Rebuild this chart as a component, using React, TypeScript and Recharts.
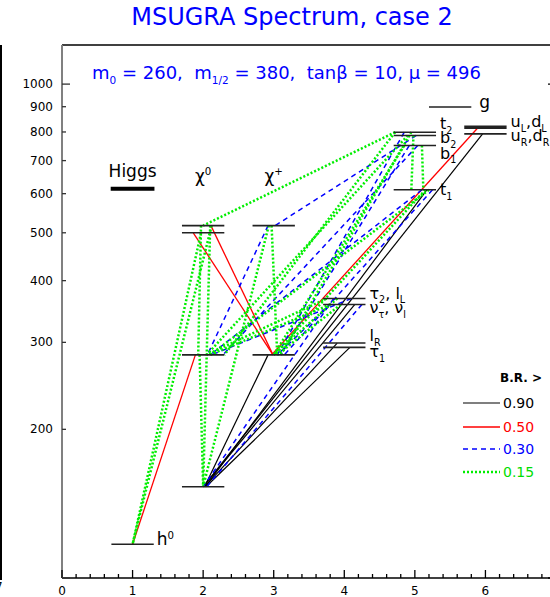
import React from 'react';
import { LineChart, Line, XAxis, YAxis, ReferenceLine } from 'recharts';

// sparticle levels: column on the x axis, mass in GeV
const particles = ['h0', 'H', 'N1', 'N2', 'N3', 'N4', 'C1', 'C2', 'tau1', 'lR', 'snu', 'tau2', 't1', 'b1', 'b2', 't2', 'qR', 'qL', 'gluino'];
const columnX = [1, 1, 2, 2, 2, 2, 3, 3, 4, 4, 4, 4, 5, 5, 5, 5, 6, 6, 5.5];
const massGeV = [117, 614, 153, 283, 500, 517, 283, 517, 293, 299, 358, 368, 611, 751, 787, 799, 793, 818, 899];

// decays: [from, x on from level, to, x on to level]
type Decay = [string, number, string, number];

const decays90: Decay[] = [
  ['C1', 2.92, 'N1', 2.02],
  ['lR', 3.9, 'N1', 2.02],
  ['tau1', 4.08, 'N1', 2.04],
  ['snu', 4.15, 'N1', 2.0],
  ['t1', 5.17, 'N1', 2.03],
  ['qR', 5.96, 'N1', 2.0],
];

const decays50: Decay[] = [
  ['N2', 1.89, 'h0', 1.0],
  ['N3', 1.86, 'C1', 2.99],
  ['N4', 2.11, 'C1', 2.99],
  ['qL', 5.9, 'C1', 2.97],
];

const decays30: Decay[] = [
  ['C2', 2.92, 'N2', 2.06],
  ['b2', 5.02, 'C2', 3.02],
  ['b1', 5.04, 'N2', 2.28],
  ['t2', 4.85, 'C1', 3.05],
  ['b1', 4.92, 'C1', 3.1],
  ['t1', 5.1, 'N2', 2.1],
  ['tau2', 3.85, 'N1', 2.0],
  ['snu', 4.25, 'N1', 2.05],
  ['snu', 3.8, 'C1', 3.05],
  ['tau2', 4.1, 'N2', 2.12],
  ['t1', 5.25, 'C1', 3.15],
];

const decays15: Decay[] = [
  ['N3', 1.97, 'h0', 1.0],
  ['N4', 2.12, 'h0', 1.0],
  ['N2', 1.95, 'N1', 2.0],
  ['N4', 1.97, 'N2', 1.93],
  ['N4', 2.1, 'N1', 2.0],
  ['C2', 2.97, 'C1', 3.05],
  ['C2', 2.93, 'N1', 2.0],
  ['t2', 4.72, 'N4', 2.0],
  ['t2', 4.72, 'N2', 2.3],
  ['b2', 4.9, 'N2', 2.05],
  ['b1', 4.85, 'C1', 3.0],
  ['t1', 5.2, 'N2', 2.1],
  ['b2', 4.98, 't1', 4.95],
  ['b1', 5.1, 't1', 5.12],
  ['tau2', 3.75, 'N2', 2.05],
  ['snu', 3.8, 'N2', 2.1],
  ['tau2', 3.9, 'C1', 3.0],
  ['snu', 3.95, 'C1', 3.05],
  ['t1', 5.15, 'C1', 3.0],
  ['t2', 4.95, 'C1', 3.1],
];

const brLabels = ['0.90', '0.50', '0.30', '0.15'];

const xMajor = [0, 1, 2, 3, 4, 5, 6, 7];
const yTicks = [100, 200, 300, 400, 500, 600, 700, 800, 900, 1000];

// label text pieces per level: [text, 'sub' | 'sup' | '']
type Piece = [string, string];
const levelText: Record<string, Piece[]> = {
  h0: [['h', ''], ['0', 'sup']],
  tau1: [['τ', ''], ['1', 'sub']],
  lR: [['l', ''], ['R', 'sub']],
  snu: [['ν', ''], ['τ', 'sub'], [', ν', ''], ['l', 'sub']],
  tau2: [['τ', ''], ['2', 'sub'], [', l', ''], ['L', 'sub']],
  t1: [['t', ''], ['1', 'sub']],
  b1: [['b', ''], ['1', 'sub']],
  b2: [['b', ''], ['2', 'sub']],
  t2: [['t', ''], ['2', 'sub']],
  qR: [['u', ''], ['R', 'sub'], [',d', ''], ['R', 'sub']],
  qL: [['u', ''], ['L', 'sub'], [',d', ''], ['L', 'sub']],
  gluino: [['g', '']],
};
const labelShift: Record<string, [number, number]> = {
  h0: [3, 1], tau1: [4, 10], lR: [4, -2], snu: [4, 9], tau2: [4, 0],
  t1: [4, 5], b1: [4, 13], b2: [4, 8], t2: [4, -3],
  qR: [4, 7], qL: [4, 0], gluino: [8, 1],
};
const labelSize: Record<string, number> = {
  h0: 17, tau1: 16, lR: 16, snu: 16, tau2: 16, t1: 16, b1: 16, b2: 16, t2: 16, qR: 16, qL: 16, gluino: 17,
};

const mass = (p: string) => massGeV[particles.indexOf(p)];

const styles = [
  { list: decays90, stroke: '#000000', width: 1.2, dash: undefined },
  { list: decays50, stroke: '#ff0000', width: 1.3, dash: undefined },
  { list: decays30, stroke: '#0000ff', width: 1.5, dash: '5 4' },
  { list: decays15, stroke: '#00ee00', width: 2.5, dash: '2 2' },
];

const renderPieces = (pieces: Piece[], size: number) => {
  let shift = 0;
  return pieces.map(([t, kind], i) => {
    const target = kind === 'sub' ? 0.3 * size : kind === 'sup' ? -0.4 * size : 0;
    const dy = target - shift;
    shift = target;
    return (
      <tspan key={i} dy={dy} fontSize={kind ? size * 0.6 : size}>
        {t}
      </tspan>
    );
  });
};

const levelLabel = (p: string) => {
  const pieces = levelText[p];
  if (!pieces) return undefined;
  const [dx, dy] = labelShift[p];
  const size = labelSize[p];
  return (props: any) => {
    const vb = props.viewBox;
    return (
      <text x={vb.x + vb.width + dx} y={vb.y + dy} fill="#000" fontSize={size} fontFamily="DejaVu Sans">
        {renderPieces(pieces, size)}
      </text>
    );
  };
};

const headerLabel = (pieces: Piece[], dy: number) => (props: any) => {
  const vb = props.viewBox;
  return (
    <text x={vb.x + vb.width / 2} y={vb.y + dy} textAnchor="middle" fill="#000" fontSize={17} fontFamily="DejaVu Sans">
      {renderPieces(pieces, 17)}
    </text>
  );
};

const isMajor = (v: number) => Math.abs(v - Math.round(v)) < 1e-6;
const xTicks = xMajor.flatMap((v) => (v < 7 ? [v, v + 0.2, v + 0.4, v + 0.6, v + 0.8] : [v]));

const BottomTick = (p: any) => {
  const v = p.payload.value;
  const major = isMajor(v);
  return (
    <g>
      <line x1={p.x} x2={p.x} y1={p.y} y2={p.y - (major ? 8 : 4)} stroke="#000" strokeWidth={1.3} />
      {major && (
        <text x={p.x} y={p.y + 17} textAnchor="middle" fontSize={12} fill="#000" fontFamily="DejaVu Sans">
          {Math.round(v)}
        </text>
      )}
    </g>
  );
};

const TopTick = (p: any) => {
  const major = isMajor(p.payload.value);
  return <line x1={p.x} x2={p.x} y1={p.y} y2={p.y + (major ? 8 : 4)} stroke="#000" strokeWidth={1.3} />;
};

const LeftTick = (p: any) => {
  const v = p.payload.value;
  const major = v === 1000 || v === 100;
  return (
    <g>
      <line x1={p.x} x2={p.x + (major ? 8 : 4)} y1={p.y} y2={p.y} stroke="#333" strokeWidth={1.3} />
      {v !== 100 && (
        <text x={p.x - 9} y={p.y + 4} textAnchor="end" fontSize={12} fill="#000" fontFamily="DejaVu Sans">
          {v}
        </text>
      )}
    </g>
  );
};

const RightTick = (p: any) => {
  const v = p.payload.value;
  const major = v === 1000 || v === 100;
  return <line x1={p.x} x2={p.x - (major ? 8 : 4)} y1={p.y} y2={p.y} stroke="#000" strokeWidth={1.3} />;
};

export default function App() {
  const legendTextColors = ['#000000', '#ff0000', '#0000ff', '#00dd00'];
  const legendY = [403, 427, 449, 472];
  return (
    <div style={{ position: 'fixed', left: 0, top: 0, width: 550, height: 597, overflow: 'hidden', background: '#fff', fontFamily: '"DejaVu Sans", sans-serif' }}>
      <div style={{ position: 'absolute', left: 0, top: 45, width: 2, height: 535, background: '#000' }} />
      <div style={{ position: 'absolute', left: -5, top: 580, fontSize: 12, color: '#000' }}>7</div>
      <div style={{ position: 'absolute', left: 0, top: 0 }}>
        <LineChart width={620} height={597} margin={{ top: 40, right: 54, bottom: 0, left: 12 }}>
          <XAxis
            dataKey="x"
            type="number"
            domain={[0, 7]}
            ticks={xTicks}
            interval={0}
            allowDataOverflow
            height={19}
            tickSize={0}
            tickMargin={0}
            tickLine={false}
            axisLine={{ stroke: '#000', strokeWidth: 1.5 }}
            tick={BottomTick}
          />
          <XAxis
            xAxisId="top"
            orientation="top"
            type="number"
            domain={[0, 7]}
            ticks={xTicks}
            interval={0}
            allowDataOverflow
            height={5}
            tickSize={0}
            tickMargin={0}
            tickLine={false}
            axisLine={{ stroke: '#000', strokeWidth: 1.5 }}
            tick={TopTick}
          />
          <YAxis
            type="number"
            scale="log"
            domain={[100, 1200]}
            ticks={yTicks}
            interval={0}
            allowDataOverflow
            width={50}
            tickSize={0}
            tickMargin={0}
            tickLine={false}
            axisLine={{ stroke: '#808080', strokeWidth: 2 }}
            tick={LeftTick}
          />
          <YAxis
            yAxisId="right"
            orientation="right"
            type="number"
            scale="log"
            domain={[100, 1200]}
            ticks={yTicks}
            interval={0}
            allowDataOverflow
            width={10}
            tickSize={0}
            tickMargin={0}
            tickLine={false}
            axisLine={{ stroke: '#000', strokeWidth: 1.5 }}
            tick={RightTick}
          />
          {styles.map((s, gi) =>
            s.list.map(([a, ax, b, bx], i) => (
              <Line
                key={`d${gi}-${i}`}
                data={[
                  { x: ax, y: mass(a) },
                  { x: bx, y: mass(b) },
                ]}
                dataKey="y"
                stroke={s.stroke}
                strokeWidth={s.width}
                strokeDasharray={s.dash}
                dot={false}
                activeDot={false}
                legendType="none"
                isAnimationActive={false}
              />
            ))
          )}
          {particles.map((p, i) => {
            const x = columnX[i];
            const m = massGeV[i];
            if (p === 'H') {
              return (
                <ReferenceLine
                  key={p}
                  segment={[{ x: x - 0.31, y: m }, { x: x + 0.31, y: m }]}
                  stroke="#000"
                  strokeWidth={4}
                  label={headerLabel([['Higgs', '']], -12)}
                />
              );
            }
            let label = levelLabel(p);
            if (p === 'N4') label = headerLabel([['χ', ''], ['0', 'sup']], -44);
            if (p === 'C2') label = headerLabel([['χ', ''], ['+', 'sup']], -44);
            return (
              <ReferenceLine
                key={p}
                segment={[{ x: x - 0.3, y: m }, { x: x + 0.3, y: m }]}
                stroke="#222"
                strokeWidth={p === 'qL' ? 3.5 : 1.6}
                label={label}
              />
            );
          })}
        </LineChart>
      </div>
      <div style={{ position: 'absolute', left: 0, width: 584, top: 3, textAlign: 'center', fontSize: 24, color: '#0000ff' }}>
        MSUGRA Spectrum, case 2
      </div>
      <div style={{ position: 'absolute', left: 92, top: 62, fontSize: 18, color: '#0000ff', whiteSpace: 'pre' }}>
        m<sub style={{ fontSize: 10.5 }}>0</sub> = 260,  m<sub style={{ fontSize: 10.5 }}>1/2</sub> = 380,  tanβ = 10, μ = 496
      </div>
      <svg style={{ position: 'absolute', left: 0, top: 0 }} width={550} height={597}>
        <text x={500} y={382} fontSize={12} fontWeight="bold" fill="#000" fontFamily="DejaVu Sans">
          B.R. &gt;
        </text>
        {brLabels.map((t, i) => (
          <g key={t}>
            <line x1={463} x2={500} y1={legendY[i]} y2={legendY[i]} stroke={styles[i].stroke} strokeWidth={styles[i].width} strokeDasharray={styles[i].dash} />
            <text x={503} y={legendY[i] + 5} fontSize={14} fill={legendTextColors[i]} fontFamily="DejaVu Sans">
              {t}
            </text>
          </g>
        ))}
      </svg>
    </div>
  );
}
